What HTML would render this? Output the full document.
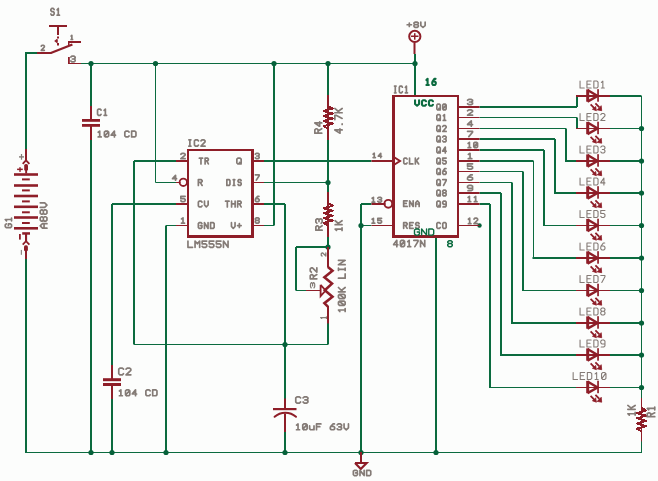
<!DOCTYPE html>
<html><head><meta charset="utf-8"><style>
html,body{margin:0;padding:0;background:#fcfdfc;}
svg{display:block;font-family:"Liberation Sans",sans-serif;}
</style></head><body>
<svg width="658" height="481" viewBox="0 0 658 481">
<rect width="658" height="481" fill="#fcfdfc"/>
<rect x="25" y="52" width="12" height="2" fill="#0b6b3f"/>
<rect x="25" y="52" width="2" height="97" fill="#0b6b3f"/>
<rect x="81" y="63" width="334" height="1" fill="#0b6b3f"/>
<rect x="25" y="259" width="2" height="194" fill="#0b6b3f"/>
<rect x="25" y="452" width="617" height="1" fill="#0b6b3f"/>
<rect x="90" y="63.5" width="2" height="42.5" fill="#0b6b3f"/>
<rect x="90" y="139" width="2" height="313.5" fill="#0b6b3f"/>
<rect x="155" y="63.5" width="1" height="119" fill="#0b6b3f"/>
<rect x="155.5" y="182" width="21.5" height="1" fill="#0b6b3f"/>
<rect x="273" y="63.5" width="2" height="162" fill="#0b6b3f"/>
<rect x="263.5" y="225" width="10.5" height="1" fill="#0b6b3f"/>
<rect x="327" y="63.5" width="2" height="31.5" fill="#0b6b3f"/>
<rect x="327" y="140" width="2" height="52" fill="#0b6b3f"/>
<rect x="263.5" y="182" width="64.5" height="1" fill="#0b6b3f"/>
<rect x="263.5" y="160" width="108" height="2" fill="#0b6b3f"/>
<rect x="134" y="160" width="43" height="2" fill="#0b6b3f"/>
<rect x="133" y="161" width="2" height="183.5" fill="#0b6b3f"/>
<rect x="134" y="344" width="194" height="1" fill="#0b6b3f"/>
<rect x="112" y="203" width="65" height="2" fill="#0b6b3f"/>
<rect x="111" y="204" width="2" height="161" fill="#0b6b3f"/>
<rect x="111" y="399" width="2" height="53.5" fill="#0b6b3f"/>
<rect x="166" y="225" width="11" height="1" fill="#0b6b3f"/>
<rect x="165" y="225.5" width="2" height="227" fill="#0b6b3f"/>
<rect x="263.5" y="203" width="21.5" height="2" fill="#0b6b3f"/>
<rect x="284" y="204" width="2" height="195" fill="#0b6b3f"/>
<rect x="284" y="432" width="2" height="20.5" fill="#0b6b3f"/>
<rect x="327" y="235" width="2" height="12" fill="#0b6b3f"/>
<rect x="296" y="246" width="32" height="2" fill="#0b6b3f"/>
<rect x="295" y="247" width="2" height="43.5" fill="#0b6b3f"/>
<rect x="296" y="290" width="10" height="1" fill="#0b6b3f"/>
<rect x="327" y="323" width="2" height="21.5" fill="#0b6b3f"/>
<rect x="361" y="203" width="10.5" height="2" fill="#0b6b3f"/>
<rect x="361" y="225" width="10.5" height="1" fill="#0b6b3f"/>
<rect x="360" y="204" width="2" height="248.5" fill="#0b6b3f"/>
<rect x="414" y="54" width="2" height="42" fill="#0b6b3f"/>
<rect x="435" y="237" width="2" height="215.5" fill="#0b6b3f"/>
<rect x="479.5" y="106" width="97.5" height="2" fill="#0b6b3f"/>
<rect x="576" y="96" width="2" height="11" fill="#0b6b3f"/>
<rect x="610" y="95" width="31.5" height="2" fill="#0b6b3f"/>
<rect x="479.5" y="117" width="97.5" height="1" fill="#0b6b3f"/>
<rect x="576" y="117.5" width="2" height="11" fill="#0b6b3f"/>
<rect x="610" y="128" width="31.5" height="1" fill="#0b6b3f"/>
<rect x="479.5" y="128" width="86.5" height="1" fill="#0b6b3f"/>
<rect x="565" y="128.5" width="2" height="32.5" fill="#0b6b3f"/>
<rect x="565" y="160" width="12.5" height="2" fill="#0b6b3f"/>
<rect x="610" y="160" width="31.5" height="2" fill="#0b6b3f"/>
<rect x="479.5" y="138" width="75.5" height="2" fill="#0b6b3f"/>
<rect x="554" y="139" width="2" height="54" fill="#0b6b3f"/>
<rect x="554" y="192" width="23.5" height="2" fill="#0b6b3f"/>
<rect x="610" y="192" width="31.5" height="2" fill="#0b6b3f"/>
<rect x="479.5" y="149" width="64.5" height="2" fill="#0b6b3f"/>
<rect x="543" y="150" width="2" height="75.5" fill="#0b6b3f"/>
<rect x="543" y="225" width="34.5" height="1" fill="#0b6b3f"/>
<rect x="610" y="225" width="31.5" height="1" fill="#0b6b3f"/>
<rect x="479.5" y="160" width="54" height="2" fill="#0b6b3f"/>
<rect x="533" y="161" width="1" height="97" fill="#0b6b3f"/>
<rect x="532.5" y="257" width="45" height="2" fill="#0b6b3f"/>
<rect x="610" y="257" width="31.5" height="2" fill="#0b6b3f"/>
<rect x="479.5" y="171" width="43.5" height="1" fill="#0b6b3f"/>
<rect x="522" y="171.5" width="2" height="119" fill="#0b6b3f"/>
<rect x="522" y="290" width="55.5" height="1" fill="#0b6b3f"/>
<rect x="610" y="290" width="31.5" height="1" fill="#0b6b3f"/>
<rect x="479.5" y="182" width="32.5" height="1" fill="#0b6b3f"/>
<rect x="511" y="182.5" width="2" height="140.5" fill="#0b6b3f"/>
<rect x="511" y="322" width="66.5" height="2" fill="#0b6b3f"/>
<rect x="610" y="322" width="31.5" height="2" fill="#0b6b3f"/>
<rect x="479.5" y="192" width="21.5" height="2" fill="#0b6b3f"/>
<rect x="500" y="193" width="2" height="162" fill="#0b6b3f"/>
<rect x="500" y="354" width="77.5" height="2" fill="#0b6b3f"/>
<rect x="610" y="354" width="31.5" height="2" fill="#0b6b3f"/>
<rect x="479.5" y="203" width="10.5" height="2" fill="#0b6b3f"/>
<rect x="489" y="204" width="2" height="183.5" fill="#0b6b3f"/>
<rect x="489" y="387" width="88.5" height="1" fill="#0b6b3f"/>
<rect x="610" y="387" width="31.5" height="1" fill="#0b6b3f"/>
<rect x="641" y="96" width="1" height="302" fill="#0b6b3f"/>
<rect x="641" y="441" width="1" height="11.5" fill="#0b6b3f"/>
<circle cx="91" cy="63.5" r="2.6" fill="#06613a"/>
<circle cx="155.5" cy="63.5" r="2.6" fill="#06613a"/>
<circle cx="274" cy="63.5" r="2.6" fill="#06613a"/>
<circle cx="328" cy="63.5" r="2.6" fill="#06613a"/>
<circle cx="415" cy="63.5" r="2.6" fill="#06613a"/>
<circle cx="328" cy="182.5" r="2.6" fill="#06613a"/>
<circle cx="328" cy="247" r="2.6" fill="#06613a"/>
<circle cx="285" cy="344.5" r="2.6" fill="#06613a"/>
<circle cx="361" cy="225.5" r="2.6" fill="#06613a"/>
<circle cx="91" cy="452.5" r="2.6" fill="#06613a"/>
<circle cx="112" cy="452.5" r="2.6" fill="#06613a"/>
<circle cx="166" cy="452.5" r="2.6" fill="#06613a"/>
<circle cx="285" cy="452.5" r="2.6" fill="#06613a"/>
<circle cx="361" cy="452.5" r="2.6" fill="#06613a"/>
<circle cx="436" cy="452.5" r="2.6" fill="#06613a"/>
<circle cx="641.5" cy="128.5" r="2.6" fill="#06613a"/>
<circle cx="641.5" cy="161" r="2.6" fill="#06613a"/>
<circle cx="641.5" cy="193" r="2.6" fill="#06613a"/>
<circle cx="641.5" cy="225.5" r="2.6" fill="#06613a"/>
<circle cx="641.5" cy="258" r="2.6" fill="#06613a"/>
<circle cx="641.5" cy="290.5" r="2.6" fill="#06613a"/>
<circle cx="641.5" cy="323" r="2.6" fill="#06613a"/>
<circle cx="641.5" cy="355" r="2.6" fill="#06613a"/>
<circle cx="641.5" cy="387.5" r="2.6" fill="#06613a"/>
<circle cx="479.5" cy="225.5" r="2.2" fill="#06613a"/>
<rect x="187" y="149" width="67" height="2" fill="#8e1e28"/>
<rect x="187" y="235" width="67" height="3" fill="#8e1e28"/>
<rect x="187" y="149" width="2" height="89" fill="#8e1e28"/>
<rect x="251" y="149" width="3" height="89" fill="#8e1e28"/>
<rect x="176" y="160" width="11" height="2" fill="#8e1e28"/>
<rect x="176" y="203" width="11" height="2" fill="#8e1e28"/>
<rect x="176" y="225" width="11" height="1" fill="#8e1e28"/>
<rect x="176" y="182" width="4.5" height="1" fill="#8e1e28"/>
<circle cx="183.3" cy="182.3" r="3.7" fill="none" stroke="#8e1e28" stroke-width="1.8"/>
<rect x="253" y="160" width="11" height="2" fill="#8e1e28"/>
<rect x="253" y="182" width="11" height="1" fill="#8e1e28"/>
<rect x="253" y="203" width="11" height="2" fill="#8e1e28"/>
<rect x="253" y="225" width="11" height="1" fill="#8e1e28"/>
<path d="M188.87,139.85 L190.90,139.85 M189.88,139.85 L189.88,146.15 M188.87,146.15 L190.90,146.15 M198.48,140.90 L197.47,139.85 L195.43,139.85 L194.42,140.90 L194.42,145.10 L195.43,146.15 L197.47,146.15 L198.48,145.10 M200.98,140.90 L202.00,139.85 L204.03,139.85 L205.05,140.90 L205.05,141.95 L200.98,146.15 L205.05,146.15" fill="none" stroke="#847b76" stroke-width="1.7" stroke-linecap="round" stroke-linejoin="round"/>
<path d="M187.95,241.05 L187.95,247.35 L192.55,247.35 M195.05,247.35 L195.05,241.05 L197.35,243.78 L199.65,241.05 L199.65,247.35 M206.75,241.05 L202.15,241.05 L202.15,243.78 L205.60,243.78 L206.75,244.83 L206.75,246.30 L205.60,247.35 L203.30,247.35 L202.15,246.30 M213.85,241.05 L209.25,241.05 L209.25,243.78 L212.70,243.78 L213.85,244.83 L213.85,246.30 L212.70,247.35 L210.40,247.35 L209.25,246.30 M220.95,241.05 L216.35,241.05 L216.35,243.78 L219.80,243.78 L220.95,244.83 L220.95,246.30 L219.80,247.35 L217.50,247.35 L216.35,246.30 M223.45,247.35 L223.45,241.05 L228.05,247.35 L228.05,241.05" fill="none" stroke="#847b76" stroke-width="1.7" stroke-linecap="round" stroke-linejoin="round"/>
<path d="M180.85,154.23 L181.93,153.35 L184.07,153.35 L185.15,154.23 L185.15,155.12 L180.85,158.65 L185.15,158.65" fill="none" stroke="#847b76" stroke-width="1.7" stroke-linecap="round" stroke-linejoin="round"/>
<path d="M185.15,196.35 L180.85,196.35 L180.85,198.65 L184.07,198.65 L185.15,199.53 L185.15,200.77 L184.07,201.65 L181.93,201.65 L180.85,200.77" fill="none" stroke="#847b76" stroke-width="1.7" stroke-linecap="round" stroke-linejoin="round"/>
<path d="M181.50,218.91 L183.00,217.85 L183.00,223.15 M181.50,223.15 L184.50,223.15" fill="none" stroke="#847b76" stroke-width="1.7" stroke-linecap="round" stroke-linejoin="round"/>
<path d="M175.55,180.15 L175.55,175.35 L172.55,178.55 L172.55,178.71 L176.55,178.71" fill="none" stroke="#847b76" stroke-width="1.7" stroke-linecap="round" stroke-linejoin="round"/>
<path d="M255.35,154.23 L256.30,153.35 L258.20,153.35 L259.15,154.23 L259.15,155.12 L258.20,156.00 L259.15,156.88 L259.15,157.77 L258.20,158.65 L256.30,158.65 L255.35,157.77 M256.77,156.00 L258.20,156.00" fill="none" stroke="#847b76" stroke-width="1.7" stroke-linecap="round" stroke-linejoin="round"/>
<path d="M255.35,174.85 L259.15,174.85 L259.15,175.73 L256.30,180.15" fill="none" stroke="#847b76" stroke-width="1.7" stroke-linecap="round" stroke-linejoin="round"/>
<path d="M258.96,196.35 L257.63,196.35 L255.63,198.65 L255.35,199.53 L255.35,200.77 L256.30,201.65 L258.20,201.65 L259.15,200.77 L259.15,199.53 L258.20,198.65 L255.92,198.65" fill="none" stroke="#847b76" stroke-width="1.7" stroke-linecap="round" stroke-linejoin="round"/>
<path d="M256.30,220.32 L255.35,219.44 L255.35,218.73 L256.30,217.85 L258.20,217.85 L259.15,218.73 L259.15,219.44 L258.20,220.32 L256.30,220.32 L255.35,221.21 L255.35,222.27 L256.30,223.15 L258.20,223.15 L259.15,222.27 L259.15,221.21 L258.20,220.32" fill="none" stroke="#847b76" stroke-width="1.7" stroke-linecap="round" stroke-linejoin="round"/>
<path d="M199.35,158.15 L202.60,158.15 M200.97,158.15 L200.97,163.95 M205.10,163.95 L205.10,158.15 L207.54,158.15 L208.35,159.12 L208.35,159.89 L207.54,160.86 L205.10,160.86 M206.72,160.86 L208.35,163.95" fill="none" stroke="#847b76" stroke-width="1.7" stroke-linecap="round" stroke-linejoin="round"/>
<path d="M198.35,185.45 L198.35,179.65 L201.20,179.65 L202.15,180.62 L202.15,181.39 L201.20,182.36 L198.35,182.36 M200.25,182.36 L202.15,185.45" fill="none" stroke="#847b76" stroke-width="1.7" stroke-linecap="round" stroke-linejoin="round"/>
<path d="M202.00,202.12 L201.09,201.15 L199.26,201.15 L198.35,202.12 L198.35,205.98 L199.26,206.95 L201.09,206.95 L202.00,205.98 M204.50,201.15 L204.50,205.02 L206.32,206.95 L208.15,205.02 L208.15,201.15" fill="none" stroke="#847b76" stroke-width="1.7" stroke-linecap="round" stroke-linejoin="round"/>
<path d="M201.95,223.62 L201.05,222.65 L199.25,222.65 L198.35,223.62 L198.35,227.48 L199.25,228.45 L201.05,228.45 L201.95,227.48 L201.95,225.55 L200.33,225.55 M204.45,228.45 L204.45,222.65 L208.05,228.45 L208.05,222.65 M210.55,228.45 L210.55,222.65 L213.25,222.65 L214.15,223.62 L214.15,227.48 L213.25,228.45 L210.55,228.45" fill="none" stroke="#847b76" stroke-width="1.7" stroke-linecap="round" stroke-linejoin="round"/>
<path d="M237.93,163.95 L240.07,163.95 L241.15,162.98 L241.15,159.12 L240.07,158.15 L237.93,158.15 L236.85,159.12 L236.85,162.98 L237.93,163.95 M239.43,162.40 L241.15,163.95" fill="none" stroke="#847b76" stroke-width="1.7" stroke-linecap="round" stroke-linejoin="round"/>
<path d="M226.85,185.45 L226.85,179.65 L229.18,179.65 L229.95,180.62 L229.95,184.48 L229.18,185.45 L226.85,185.45 M233.22,179.65 L234.78,179.65 M234.00,179.65 L234.00,185.45 M233.22,185.45 L234.78,185.45 M241.15,180.62 L240.38,179.65 L238.82,179.65 L238.05,180.62 L238.05,181.39 L238.82,182.36 L240.38,182.36 L241.15,183.32 L241.15,184.48 L240.38,185.45 L238.82,185.45 L238.05,184.48" fill="none" stroke="#847b76" stroke-width="1.7" stroke-linecap="round" stroke-linejoin="round"/>
<path d="M225.55,201.15 L229.08,201.15 M227.32,201.15 L227.32,206.95 M231.58,206.95 L231.58,201.15 M235.12,206.95 L235.12,201.15 M231.58,203.86 L235.12,203.86 M237.62,206.95 L237.62,201.15 L240.27,201.15 L241.15,202.12 L241.15,202.89 L240.27,203.86 L237.62,203.86 M239.38,203.86 L241.15,206.95" fill="none" stroke="#847b76" stroke-width="1.7" stroke-linecap="round" stroke-linejoin="round"/>
<path d="M231.45,222.65 L231.45,226.52 L233.25,228.45 L235.05,226.52 L235.05,222.65 M237.55,225.55 L241.15,225.55 M239.35,227.48 L239.35,223.62" fill="none" stroke="#847b76" stroke-width="1.7" stroke-linecap="round" stroke-linejoin="round"/>
<rect x="392" y="95" width="67" height="2" fill="#8e1e28"/>
<rect x="392" y="235" width="67" height="3" fill="#8e1e28"/>
<rect x="392" y="95" width="3" height="143" fill="#8e1e28"/>
<rect x="457" y="95" width="2" height="143" fill="#8e1e28"/>
<rect x="371.5" y="160" width="21.5" height="2" fill="#8e1e28"/>
<rect x="371.5" y="225" width="21.5" height="1" fill="#8e1e28"/>
<rect x="371.5" y="203" width="14" height="2" fill="#8e1e28"/>
<circle cx="388.3" cy="203.8" r="3.9" fill="none" stroke="#8e1e28" stroke-width="1.9"/>
<polyline points="393,156.5 400,161 393,165.5" stroke="#8e1e28" stroke-width="2" fill="none" stroke-linejoin="miter" stroke-linecap="butt"/>
<path d="M373.13,154.11 L374.25,153.25 L374.25,157.55 M373.13,157.55 L375.37,157.55 M380.75,157.55 L380.75,153.25 L378.35,156.12 L378.35,156.26 L381.55,156.26" fill="none" stroke="#847b76" stroke-width="1.7" stroke-linecap="round" stroke-linejoin="round"/>
<path d="M372.11,198.31 L373.43,197.35 L373.43,202.15 M372.11,202.15 L374.74,202.15 M377.80,198.15 L378.74,197.35 L380.61,197.35 L381.55,198.15 L381.55,198.95 L380.61,199.75 L381.55,200.55 L381.55,201.35 L380.61,202.15 L378.74,202.15 L377.80,201.35 M379.21,199.75 L380.61,199.75" fill="none" stroke="#847b76" stroke-width="1.7" stroke-linecap="round" stroke-linejoin="round"/>
<path d="M372.11,219.31 L373.43,218.35 L373.43,223.15 M372.11,223.15 L374.74,223.15 M381.55,218.35 L377.80,218.35 L377.80,220.43 L380.61,220.43 L381.55,221.23 L381.55,222.35 L380.61,223.15 L378.74,223.15 L377.80,222.35" fill="none" stroke="#847b76" stroke-width="1.7" stroke-linecap="round" stroke-linejoin="round"/>
<path d="M407.05,159.03 L406.22,158.05 L404.57,158.05 L403.75,159.03 L403.75,162.97 L404.57,163.95 L406.22,163.95 L407.05,162.97 M409.55,158.05 L409.55,163.95 L412.85,163.95 M415.35,163.95 L415.35,158.05 M418.65,158.05 L415.35,161.98 M416.42,160.71 L418.65,163.95" fill="none" stroke="#847b76" stroke-width="1.7" stroke-linecap="round" stroke-linejoin="round"/>
<path d="M407.15,200.85 L403.65,200.85 L403.65,206.45 L407.15,206.45 M403.65,203.46 L406.28,203.46 M409.65,206.45 L409.65,200.85 L413.15,206.45 L413.15,200.85 M415.65,206.45 L415.65,202.72 L417.40,200.85 L419.15,202.72 L419.15,206.45 M415.65,204.02 L419.15,204.02" fill="none" stroke="#847b76" stroke-width="1.7" stroke-linecap="round" stroke-linejoin="round"/>
<path d="M403.65,228.35 L403.65,222.65 L406.28,222.65 L407.15,223.60 L407.15,224.36 L406.28,225.31 L403.65,225.31 M405.40,225.31 L407.15,228.35 M413.15,222.65 L409.65,222.65 L409.65,228.35 L413.15,228.35 M409.65,225.31 L412.27,225.31 M419.15,223.60 L418.27,222.65 L416.52,222.65 L415.65,223.60 L415.65,224.36 L416.52,225.31 L418.27,225.31 L419.15,226.26 L419.15,227.40 L418.27,228.35 L416.52,228.35 L415.65,227.40" fill="none" stroke="#847b76" stroke-width="1.7" stroke-linecap="round" stroke-linejoin="round"/>
<path d="M394.52,86.05 L396.05,86.05 M395.28,86.05 L395.28,92.85 M394.52,92.85 L396.05,92.85 M402.38,87.18 L401.62,86.05 L400.08,86.05 L399.32,87.18 L399.32,91.72 L400.08,92.85 L401.62,92.85 L402.38,91.72 M405.34,87.41 L406.42,86.05 L406.42,92.85 M405.34,92.85 L407.49,92.85" fill="none" stroke="#847b76" stroke-width="1.7" stroke-linecap="round" stroke-linejoin="round"/>
<path d="M396.81,246.65 L396.81,240.35 L393.65,244.55 L393.65,244.76 L397.87,244.76 M401.43,246.65 L403.54,246.65 L404.59,245.60 L404.59,241.40 L403.54,240.35 L401.43,240.35 L400.37,241.40 L400.37,245.60 L401.43,246.65 M401.00,245.39 L403.96,241.61 M407.72,241.61 L409.20,240.35 L409.20,246.65 M407.72,246.65 L410.68,246.65 M413.81,240.35 L418.03,240.35 L418.03,241.40 L414.87,246.65 M420.53,246.65 L420.53,240.35 L424.75,246.65 L424.75,240.35" fill="none" stroke="#847b76" stroke-width="1.7" stroke-linecap="round" stroke-linejoin="round"/>
<path d="M415.05,100.25 L415.05,103.92 L417.07,105.75 L419.08,103.92 L419.08,100.25 M426.02,101.17 L425.01,100.25 L422.99,100.25 L421.98,101.17 L421.98,104.83 L422.99,105.75 L425.01,105.75 L426.02,104.83 M432.95,101.17 L431.94,100.25 L429.93,100.25 L428.92,101.17 L428.92,104.83 L429.93,105.75 L431.94,105.75 L432.95,104.83" fill="none" stroke="#0b6b3f" stroke-width="2.1" stroke-linecap="round" stroke-linejoin="round"/>
<path d="M426.38,80.07 L427.60,78.85 L427.60,84.95 M426.38,84.95 L428.82,84.95 M435.57,78.85 L434.35,78.85 L432.51,81.49 L432.25,82.51 L432.25,83.93 L433.12,84.95 L434.88,84.95 L435.75,83.93 L435.75,82.51 L434.88,81.49 L432.78,81.49" fill="none" stroke="#0b6b3f" stroke-width="2.1" stroke-linecap="round" stroke-linejoin="round"/>
<path d="M419.43,230.02 L418.20,229.00 L415.73,229.00 L414.50,230.02 L414.50,234.08 L415.73,235.10 L418.20,235.10 L419.43,234.08 L419.43,232.05 L417.21,232.05 M421.63,235.10 L421.63,229.00 L426.57,235.10 L426.57,229.00 M428.77,235.10 L428.77,229.00 L432.47,229.00 L433.70,230.02 L433.70,234.08 L432.47,235.10 L428.77,235.10" fill="none" stroke="#0b6b3f" stroke-width="1.4" stroke-linecap="round" stroke-linejoin="round"/>
<path d="M448.88,243.55 L447.75,242.55 L447.75,241.75 L448.88,240.75 L451.12,240.75 L452.25,241.75 L452.25,242.55 L451.12,243.55 L448.88,243.55 L447.75,244.55 L447.75,245.75 L448.88,246.75 L451.12,246.75 L452.25,245.75 L452.25,244.55 L451.12,243.55" fill="none" stroke="#0b6b3f" stroke-width="1.5" stroke-linecap="round" stroke-linejoin="round"/>
<rect x="458" y="106" width="21.5" height="2" fill="#8e1e28"/>
<path d="M467.55,100.23 L468.80,99.35 L471.30,99.35 L472.55,100.23 L472.55,101.12 L471.30,102.00 L472.55,102.88 L472.55,103.77 L471.30,104.65 L468.80,104.65 L467.55,103.77 M469.43,102.00 L471.30,102.00" fill="none" stroke="#847b76" stroke-width="1.7" stroke-linecap="round" stroke-linejoin="round"/>
<path d="M437.70,109.95 L439.40,109.95 L440.25,108.97 L440.25,105.03 L439.40,104.05 L437.70,104.05 L436.85,105.03 L436.85,108.97 L437.70,109.95 M438.89,108.38 L440.25,109.95 M443.60,109.95 L445.30,109.95 L446.15,108.97 L446.15,105.03 L445.30,104.05 L443.60,104.05 L442.75,105.03 L442.75,108.97 L443.60,109.95 M443.26,108.77 L445.64,105.23" fill="none" stroke="#847b76" stroke-width="1.7" stroke-linecap="round" stroke-linejoin="round"/>
<rect x="458" y="117" width="21.5" height="1" fill="#8e1e28"/>
<path d="M467.55,110.73 L468.80,109.85 L471.30,109.85 L472.55,110.73 L472.55,111.62 L467.55,115.15 L472.55,115.15" fill="none" stroke="#847b76" stroke-width="1.7" stroke-linecap="round" stroke-linejoin="round"/>
<path d="M437.70,120.45 L439.40,120.45 L440.25,119.47 L440.25,115.53 L439.40,114.55 L437.70,114.55 L436.85,115.53 L436.85,119.47 L437.70,120.45 M438.89,118.88 L440.25,120.45 M443.26,115.73 L444.45,114.55 L444.45,120.45 M443.26,120.45 L445.64,120.45" fill="none" stroke="#847b76" stroke-width="1.7" stroke-linecap="round" stroke-linejoin="round"/>
<rect x="458" y="128" width="21.5" height="1" fill="#8e1e28"/>
<path d="M471.30,126.15 L471.30,120.85 L467.55,124.38 L467.55,124.56 L472.55,124.56" fill="none" stroke="#847b76" stroke-width="1.7" stroke-linecap="round" stroke-linejoin="round"/>
<path d="M437.70,131.45 L439.40,131.45 L440.25,130.47 L440.25,126.53 L439.40,125.55 L437.70,125.55 L436.85,126.53 L436.85,130.47 L437.70,131.45 M438.89,129.88 L440.25,131.45 M442.75,126.53 L443.60,125.55 L445.30,125.55 L446.15,126.53 L446.15,127.52 L442.75,131.45 L446.15,131.45" fill="none" stroke="#847b76" stroke-width="1.7" stroke-linecap="round" stroke-linejoin="round"/>
<rect x="458" y="138" width="21.5" height="2" fill="#8e1e28"/>
<path d="M467.55,131.35 L472.55,131.35 L472.55,132.23 L468.80,136.65" fill="none" stroke="#847b76" stroke-width="1.7" stroke-linecap="round" stroke-linejoin="round"/>
<path d="M437.70,141.95 L439.40,141.95 L440.25,140.97 L440.25,137.03 L439.40,136.05 L437.70,136.05 L436.85,137.03 L436.85,140.97 L437.70,141.95 M438.89,140.38 L440.25,141.95 M442.75,137.03 L443.60,136.05 L445.30,136.05 L446.15,137.03 L446.15,138.02 L445.30,139.00 L446.15,139.98 L446.15,140.97 L445.30,141.95 L443.60,141.95 L442.75,140.97 M444.02,139.00 L445.30,139.00" fill="none" stroke="#847b76" stroke-width="1.7" stroke-linecap="round" stroke-linejoin="round"/>
<rect x="458" y="149" width="21.5" height="2" fill="#8e1e28"/>
<path d="M468.11,143.41 L469.43,142.35 L469.43,147.65 M468.11,147.65 L470.74,147.65 M474.74,147.65 L476.61,147.65 L477.55,146.77 L477.55,143.23 L476.61,142.35 L474.74,142.35 L473.80,143.23 L473.80,146.77 L474.74,147.65 M474.36,146.59 L476.99,143.41" fill="none" stroke="#847b76" stroke-width="1.7" stroke-linecap="round" stroke-linejoin="round"/>
<path d="M437.70,152.95 L439.40,152.95 L440.25,151.97 L440.25,148.03 L439.40,147.05 L437.70,147.05 L436.85,148.03 L436.85,151.97 L437.70,152.95 M438.89,151.38 L440.25,152.95 M445.30,152.95 L445.30,147.05 L442.75,150.98 L442.75,151.18 L446.15,151.18" fill="none" stroke="#847b76" stroke-width="1.7" stroke-linecap="round" stroke-linejoin="round"/>
<rect x="458" y="160" width="21.5" height="2" fill="#8e1e28"/>
<path d="M468.30,154.41 L470.05,153.35 L470.05,158.65 M468.30,158.65 L471.80,158.65" fill="none" stroke="#847b76" stroke-width="1.7" stroke-linecap="round" stroke-linejoin="round"/>
<path d="M437.70,163.95 L439.40,163.95 L440.25,162.97 L440.25,159.03 L439.40,158.05 L437.70,158.05 L436.85,159.03 L436.85,162.97 L437.70,163.95 M438.89,162.38 L440.25,163.95 M446.15,158.05 L442.75,158.05 L442.75,160.61 L445.30,160.61 L446.15,161.59 L446.15,162.97 L445.30,163.95 L443.60,163.95 L442.75,162.97" fill="none" stroke="#847b76" stroke-width="1.7" stroke-linecap="round" stroke-linejoin="round"/>
<rect x="458" y="171" width="21.5" height="1" fill="#8e1e28"/>
<path d="M472.55,163.85 L467.55,163.85 L467.55,166.15 L471.30,166.15 L472.55,167.03 L472.55,168.27 L471.30,169.15 L468.80,169.15 L467.55,168.27" fill="none" stroke="#847b76" stroke-width="1.7" stroke-linecap="round" stroke-linejoin="round"/>
<path d="M437.70,174.45 L439.40,174.45 L440.25,173.47 L440.25,169.53 L439.40,168.55 L437.70,168.55 L436.85,169.53 L436.85,173.47 L437.70,174.45 M438.89,172.88 L440.25,174.45 M445.98,168.55 L444.79,168.55 L443.00,171.11 L442.75,172.09 L442.75,173.47 L443.60,174.45 L445.30,174.45 L446.15,173.47 L446.15,172.09 L445.30,171.11 L443.26,171.11" fill="none" stroke="#847b76" stroke-width="1.7" stroke-linecap="round" stroke-linejoin="round"/>
<rect x="458" y="182" width="21.5" height="1" fill="#8e1e28"/>
<path d="M472.30,174.85 L470.55,174.85 L467.93,177.15 L467.55,178.03 L467.55,179.27 L468.80,180.15 L471.30,180.15 L472.55,179.27 L472.55,178.03 L471.30,177.15 L468.30,177.15" fill="none" stroke="#847b76" stroke-width="1.7" stroke-linecap="round" stroke-linejoin="round"/>
<path d="M437.70,185.45 L439.40,185.45 L440.25,184.47 L440.25,180.53 L439.40,179.55 L437.70,179.55 L436.85,180.53 L436.85,184.47 L437.70,185.45 M438.89,183.88 L440.25,185.45 M442.75,179.55 L446.15,179.55 L446.15,180.53 L443.60,185.45" fill="none" stroke="#847b76" stroke-width="1.7" stroke-linecap="round" stroke-linejoin="round"/>
<rect x="458" y="192" width="21.5" height="2" fill="#8e1e28"/>
<path d="M468.05,190.65 L471.30,190.65 L472.55,189.77 L472.55,186.23 L471.30,185.35 L468.80,185.35 L467.55,186.23 L467.55,187.47 L468.80,188.35 L472.55,188.35" fill="none" stroke="#847b76" stroke-width="1.7" stroke-linecap="round" stroke-linejoin="round"/>
<path d="M437.70,195.95 L439.40,195.95 L440.25,194.97 L440.25,191.03 L439.40,190.05 L437.70,190.05 L436.85,191.03 L436.85,194.97 L437.70,195.95 M438.89,194.38 L440.25,195.95 M443.60,192.80 L442.75,191.82 L442.75,191.03 L443.60,190.05 L445.30,190.05 L446.15,191.03 L446.15,191.82 L445.30,192.80 L443.60,192.80 L442.75,193.79 L442.75,194.97 L443.60,195.95 L445.30,195.95 L446.15,194.97 L446.15,193.79 L445.30,192.80" fill="none" stroke="#847b76" stroke-width="1.7" stroke-linecap="round" stroke-linejoin="round"/>
<rect x="458" y="203" width="21.5" height="2" fill="#8e1e28"/>
<path d="M468.11,197.41 L469.43,196.35 L469.43,201.65 M468.11,201.65 L470.74,201.65 M474.36,197.41 L475.67,196.35 L475.67,201.65 M474.36,201.65 L476.99,201.65" fill="none" stroke="#847b76" stroke-width="1.7" stroke-linecap="round" stroke-linejoin="round"/>
<path d="M437.70,206.95 L439.40,206.95 L440.25,205.97 L440.25,202.03 L439.40,201.05 L437.70,201.05 L436.85,202.03 L436.85,205.97 L437.70,206.95 M438.89,205.38 L440.25,206.95 M443.09,206.95 L445.30,206.95 L446.15,205.97 L446.15,202.03 L445.30,201.05 L443.60,201.05 L442.75,202.03 L442.75,203.41 L443.60,204.39 L446.15,204.39" fill="none" stroke="#847b76" stroke-width="1.7" stroke-linecap="round" stroke-linejoin="round"/>
<rect x="458" y="225" width="21.5" height="1" fill="#8e1e28"/>
<path d="M468.40,219.25 L469.68,218.15 L469.68,223.65 M468.40,223.65 L470.95,223.65 M474.00,219.07 L474.91,218.15 L476.74,218.15 L477.65,219.07 L477.65,219.98 L474.00,223.65 L477.65,223.65" fill="none" stroke="#847b76" stroke-width="1.7" stroke-linecap="round" stroke-linejoin="round"/>
<path d="M440.25,223.53 L439.40,222.55 L437.70,222.55 L436.85,223.53 L436.85,227.47 L437.70,228.45 L439.40,228.45 L440.25,227.47 M443.60,228.45 L445.30,228.45 L446.15,227.47 L446.15,223.53 L445.30,222.55 L443.60,222.55 L442.75,223.53 L442.75,227.47 L443.60,228.45" fill="none" stroke="#847b76" stroke-width="1.7" stroke-linecap="round" stroke-linejoin="round"/>
<rect x="576" y="95" width="34" height="2" fill="#8e1e28"/>
<rect x="586.2" y="89.4" width="3" height="12.3" fill="#8e1e28"/>
<polyline points="587.5,90 597.6,96 587.5,101.6" stroke="#8e1e28" stroke-width="2.4" fill="none" stroke-linejoin="miter" stroke-linecap="butt"/>
<rect x="597.2" y="89.2" width="1.7" height="12.5" fill="#8e1e28"/>
<line x1="590.6" y1="104.4" x2="594.5" y2="108.3" stroke="#8e1e28" stroke-width="1.8" stroke-linecap="butt"/>
<polyline points="592.2,109.2 596.4,110.7 595.6,106.2" stroke="#8e1e28" stroke-width="0.8" fill="#8e1e28" stroke-linejoin="miter" stroke-linecap="butt"/>
<line x1="595.4" y1="103.3" x2="599.4" y2="107.3" stroke="#8e1e28" stroke-width="1.8" stroke-linecap="butt"/>
<polyline points="596.8,109.8 601.7,110.7 601.2,105.5" stroke="#8e1e28" stroke-width="0.8" fill="#8e1e28" stroke-linejoin="miter" stroke-linecap="butt"/>
<path d="M580.05,81.05 L580.05,87.95 L584.25,87.95 M591.15,81.05 L586.95,81.05 L586.95,87.95 L591.15,87.95 M586.95,84.27 L590.10,84.27 M593.85,87.95 L593.85,81.05 L597.00,81.05 L598.05,82.20 L598.05,86.80 L597.00,87.95 L593.85,87.95 M601.38,82.43 L602.85,81.05 L602.85,87.95 M601.38,87.95 L604.32,87.95" fill="none" stroke="#847b76" stroke-width="1.1" stroke-linecap="round" stroke-linejoin="round"/>
<rect x="576" y="128" width="34" height="1" fill="#8e1e28"/>
<rect x="586.2" y="121.9" width="3" height="12.3" fill="#8e1e28"/>
<polyline points="587.5,122.5 597.6,128.5 587.5,134.1" stroke="#8e1e28" stroke-width="2.4" fill="none" stroke-linejoin="miter" stroke-linecap="butt"/>
<rect x="597.2" y="121.7" width="1.7" height="12.5" fill="#8e1e28"/>
<line x1="590.6" y1="136.9" x2="594.5" y2="140.8" stroke="#8e1e28" stroke-width="1.8" stroke-linecap="butt"/>
<polyline points="592.2,141.7 596.4,143.2 595.6,138.7" stroke="#8e1e28" stroke-width="0.8" fill="#8e1e28" stroke-linejoin="miter" stroke-linecap="butt"/>
<line x1="595.4" y1="135.8" x2="599.4" y2="139.8" stroke="#8e1e28" stroke-width="1.8" stroke-linecap="butt"/>
<polyline points="596.8,142.3 601.7,143.2 601.2,138" stroke="#8e1e28" stroke-width="0.8" fill="#8e1e28" stroke-linejoin="miter" stroke-linecap="butt"/>
<path d="M580.05,113.55 L580.05,120.45 L584.25,120.45 M591.15,113.55 L586.95,113.55 L586.95,120.45 L591.15,120.45 M586.95,116.77 L590.10,116.77 M593.85,120.45 L593.85,113.55 L597.00,113.55 L598.05,114.70 L598.05,119.30 L597.00,120.45 L593.85,120.45 M600.75,114.70 L601.80,113.55 L603.90,113.55 L604.95,114.70 L604.95,115.85 L600.75,120.45 L604.95,120.45" fill="none" stroke="#847b76" stroke-width="1.1" stroke-linecap="round" stroke-linejoin="round"/>
<rect x="576" y="160" width="34" height="2" fill="#8e1e28"/>
<rect x="586.2" y="154.4" width="3" height="12.3" fill="#8e1e28"/>
<polyline points="587.5,155 597.6,161 587.5,166.6" stroke="#8e1e28" stroke-width="2.4" fill="none" stroke-linejoin="miter" stroke-linecap="butt"/>
<rect x="597.2" y="154.2" width="1.7" height="12.5" fill="#8e1e28"/>
<line x1="590.6" y1="169.4" x2="594.5" y2="173.3" stroke="#8e1e28" stroke-width="1.8" stroke-linecap="butt"/>
<polyline points="592.2,174.2 596.4,175.7 595.6,171.2" stroke="#8e1e28" stroke-width="0.8" fill="#8e1e28" stroke-linejoin="miter" stroke-linecap="butt"/>
<line x1="595.4" y1="168.3" x2="599.4" y2="172.3" stroke="#8e1e28" stroke-width="1.8" stroke-linecap="butt"/>
<polyline points="596.8,174.8 601.7,175.7 601.2,170.5" stroke="#8e1e28" stroke-width="0.8" fill="#8e1e28" stroke-linejoin="miter" stroke-linecap="butt"/>
<path d="M580.05,146.05 L580.05,152.95 L584.25,152.95 M591.15,146.05 L586.95,146.05 L586.95,152.95 L591.15,152.95 M586.95,149.27 L590.10,149.27 M593.85,152.95 L593.85,146.05 L597.00,146.05 L598.05,147.20 L598.05,151.80 L597.00,152.95 L593.85,152.95 M600.75,147.20 L601.80,146.05 L603.90,146.05 L604.95,147.20 L604.95,148.35 L603.90,149.50 L604.95,150.65 L604.95,151.80 L603.90,152.95 L601.80,152.95 L600.75,151.80 M602.33,149.50 L603.90,149.50" fill="none" stroke="#847b76" stroke-width="1.1" stroke-linecap="round" stroke-linejoin="round"/>
<rect x="576" y="192" width="34" height="2" fill="#8e1e28"/>
<rect x="586.2" y="186.4" width="3" height="12.3" fill="#8e1e28"/>
<polyline points="587.5,187 597.6,193 587.5,198.6" stroke="#8e1e28" stroke-width="2.4" fill="none" stroke-linejoin="miter" stroke-linecap="butt"/>
<rect x="597.2" y="186.2" width="1.7" height="12.5" fill="#8e1e28"/>
<line x1="590.6" y1="201.4" x2="594.5" y2="205.3" stroke="#8e1e28" stroke-width="1.8" stroke-linecap="butt"/>
<polyline points="592.2,206.2 596.4,207.7 595.6,203.2" stroke="#8e1e28" stroke-width="0.8" fill="#8e1e28" stroke-linejoin="miter" stroke-linecap="butt"/>
<line x1="595.4" y1="200.3" x2="599.4" y2="204.3" stroke="#8e1e28" stroke-width="1.8" stroke-linecap="butt"/>
<polyline points="596.8,206.8 601.7,207.7 601.2,202.5" stroke="#8e1e28" stroke-width="0.8" fill="#8e1e28" stroke-linejoin="miter" stroke-linecap="butt"/>
<path d="M580.05,178.05 L580.05,184.95 L584.25,184.95 M591.15,178.05 L586.95,178.05 L586.95,184.95 L591.15,184.95 M586.95,181.27 L590.10,181.27 M593.85,184.95 L593.85,178.05 L597.00,178.05 L598.05,179.20 L598.05,183.80 L597.00,184.95 L593.85,184.95 M603.90,184.95 L603.90,178.05 L600.75,182.65 L600.75,182.88 L604.95,182.88" fill="none" stroke="#847b76" stroke-width="1.1" stroke-linecap="round" stroke-linejoin="round"/>
<rect x="576" y="225" width="34" height="1" fill="#8e1e28"/>
<rect x="586.2" y="218.9" width="3" height="12.3" fill="#8e1e28"/>
<polyline points="587.5,219.5 597.6,225.5 587.5,231.1" stroke="#8e1e28" stroke-width="2.4" fill="none" stroke-linejoin="miter" stroke-linecap="butt"/>
<rect x="597.2" y="218.7" width="1.7" height="12.5" fill="#8e1e28"/>
<line x1="590.6" y1="233.9" x2="594.5" y2="237.8" stroke="#8e1e28" stroke-width="1.8" stroke-linecap="butt"/>
<polyline points="592.2,238.7 596.4,240.2 595.6,235.7" stroke="#8e1e28" stroke-width="0.8" fill="#8e1e28" stroke-linejoin="miter" stroke-linecap="butt"/>
<line x1="595.4" y1="232.8" x2="599.4" y2="236.8" stroke="#8e1e28" stroke-width="1.8" stroke-linecap="butt"/>
<polyline points="596.8,239.3 601.7,240.2 601.2,235" stroke="#8e1e28" stroke-width="0.8" fill="#8e1e28" stroke-linejoin="miter" stroke-linecap="butt"/>
<path d="M580.05,210.55 L580.05,217.45 L584.25,217.45 M591.15,210.55 L586.95,210.55 L586.95,217.45 L591.15,217.45 M586.95,213.77 L590.10,213.77 M593.85,217.45 L593.85,210.55 L597.00,210.55 L598.05,211.70 L598.05,216.30 L597.00,217.45 L593.85,217.45 M604.95,210.55 L600.75,210.55 L600.75,213.54 L603.90,213.54 L604.95,214.69 L604.95,216.30 L603.90,217.45 L601.80,217.45 L600.75,216.30" fill="none" stroke="#847b76" stroke-width="1.1" stroke-linecap="round" stroke-linejoin="round"/>
<rect x="576" y="257" width="34" height="2" fill="#8e1e28"/>
<rect x="586.2" y="251.4" width="3" height="12.3" fill="#8e1e28"/>
<polyline points="587.5,252 597.6,258 587.5,263.6" stroke="#8e1e28" stroke-width="2.4" fill="none" stroke-linejoin="miter" stroke-linecap="butt"/>
<rect x="597.2" y="251.2" width="1.7" height="12.5" fill="#8e1e28"/>
<line x1="590.6" y1="266.4" x2="594.5" y2="270.3" stroke="#8e1e28" stroke-width="1.8" stroke-linecap="butt"/>
<polyline points="592.2,271.2 596.4,272.7 595.6,268.2" stroke="#8e1e28" stroke-width="0.8" fill="#8e1e28" stroke-linejoin="miter" stroke-linecap="butt"/>
<line x1="595.4" y1="265.3" x2="599.4" y2="269.3" stroke="#8e1e28" stroke-width="1.8" stroke-linecap="butt"/>
<polyline points="596.8,271.8 601.7,272.7 601.2,267.5" stroke="#8e1e28" stroke-width="0.8" fill="#8e1e28" stroke-linejoin="miter" stroke-linecap="butt"/>
<path d="M580.05,243.05 L580.05,249.95 L584.25,249.95 M591.15,243.05 L586.95,243.05 L586.95,249.95 L591.15,249.95 M586.95,246.27 L590.10,246.27 M593.85,249.95 L593.85,243.05 L597.00,243.05 L598.05,244.20 L598.05,248.80 L597.00,249.95 L593.85,249.95 M604.74,243.05 L603.27,243.05 L601.07,246.04 L600.75,247.19 L600.75,248.80 L601.80,249.95 L603.90,249.95 L604.95,248.80 L604.95,247.19 L603.90,246.04 L601.38,246.04" fill="none" stroke="#847b76" stroke-width="1.1" stroke-linecap="round" stroke-linejoin="round"/>
<rect x="576" y="290" width="34" height="1" fill="#8e1e28"/>
<rect x="586.2" y="283.9" width="3" height="12.3" fill="#8e1e28"/>
<polyline points="587.5,284.5 597.6,290.5 587.5,296.1" stroke="#8e1e28" stroke-width="2.4" fill="none" stroke-linejoin="miter" stroke-linecap="butt"/>
<rect x="597.2" y="283.7" width="1.7" height="12.5" fill="#8e1e28"/>
<line x1="590.6" y1="298.9" x2="594.5" y2="302.8" stroke="#8e1e28" stroke-width="1.8" stroke-linecap="butt"/>
<polyline points="592.2,303.7 596.4,305.2 595.6,300.7" stroke="#8e1e28" stroke-width="0.8" fill="#8e1e28" stroke-linejoin="miter" stroke-linecap="butt"/>
<line x1="595.4" y1="297.8" x2="599.4" y2="301.8" stroke="#8e1e28" stroke-width="1.8" stroke-linecap="butt"/>
<polyline points="596.8,304.3 601.7,305.2 601.2,300" stroke="#8e1e28" stroke-width="0.8" fill="#8e1e28" stroke-linejoin="miter" stroke-linecap="butt"/>
<path d="M580.05,275.55 L580.05,282.45 L584.25,282.45 M591.15,275.55 L586.95,275.55 L586.95,282.45 L591.15,282.45 M586.95,278.77 L590.10,278.77 M593.85,282.45 L593.85,275.55 L597.00,275.55 L598.05,276.70 L598.05,281.30 L597.00,282.45 L593.85,282.45 M600.75,275.55 L604.95,275.55 L604.95,276.70 L601.80,282.45" fill="none" stroke="#847b76" stroke-width="1.1" stroke-linecap="round" stroke-linejoin="round"/>
<rect x="576" y="322" width="34" height="2" fill="#8e1e28"/>
<rect x="586.2" y="316.4" width="3" height="12.3" fill="#8e1e28"/>
<polyline points="587.5,317 597.6,323 587.5,328.6" stroke="#8e1e28" stroke-width="2.4" fill="none" stroke-linejoin="miter" stroke-linecap="butt"/>
<rect x="597.2" y="316.2" width="1.7" height="12.5" fill="#8e1e28"/>
<line x1="590.6" y1="331.4" x2="594.5" y2="335.3" stroke="#8e1e28" stroke-width="1.8" stroke-linecap="butt"/>
<polyline points="592.2,336.2 596.4,337.7 595.6,333.2" stroke="#8e1e28" stroke-width="0.8" fill="#8e1e28" stroke-linejoin="miter" stroke-linecap="butt"/>
<line x1="595.4" y1="330.3" x2="599.4" y2="334.3" stroke="#8e1e28" stroke-width="1.8" stroke-linecap="butt"/>
<polyline points="596.8,336.8 601.7,337.7 601.2,332.5" stroke="#8e1e28" stroke-width="0.8" fill="#8e1e28" stroke-linejoin="miter" stroke-linecap="butt"/>
<path d="M580.05,308.05 L580.05,314.95 L584.25,314.95 M591.15,308.05 L586.95,308.05 L586.95,314.95 L591.15,314.95 M586.95,311.27 L590.10,311.27 M593.85,314.95 L593.85,308.05 L597.00,308.05 L598.05,309.20 L598.05,313.80 L597.00,314.95 L593.85,314.95 M601.80,311.27 L600.75,310.12 L600.75,309.20 L601.80,308.05 L603.90,308.05 L604.95,309.20 L604.95,310.12 L603.90,311.27 L601.80,311.27 L600.75,312.42 L600.75,313.80 L601.80,314.95 L603.90,314.95 L604.95,313.80 L604.95,312.42 L603.90,311.27" fill="none" stroke="#847b76" stroke-width="1.1" stroke-linecap="round" stroke-linejoin="round"/>
<rect x="576" y="354" width="34" height="2" fill="#8e1e28"/>
<rect x="586.2" y="348.4" width="3" height="12.3" fill="#8e1e28"/>
<polyline points="587.5,349 597.6,355 587.5,360.6" stroke="#8e1e28" stroke-width="2.4" fill="none" stroke-linejoin="miter" stroke-linecap="butt"/>
<rect x="597.2" y="348.2" width="1.7" height="12.5" fill="#8e1e28"/>
<line x1="590.6" y1="363.4" x2="594.5" y2="367.3" stroke="#8e1e28" stroke-width="1.8" stroke-linecap="butt"/>
<polyline points="592.2,368.2 596.4,369.7 595.6,365.2" stroke="#8e1e28" stroke-width="0.8" fill="#8e1e28" stroke-linejoin="miter" stroke-linecap="butt"/>
<line x1="595.4" y1="362.3" x2="599.4" y2="366.3" stroke="#8e1e28" stroke-width="1.8" stroke-linecap="butt"/>
<polyline points="596.8,368.8 601.7,369.7 601.2,364.5" stroke="#8e1e28" stroke-width="0.8" fill="#8e1e28" stroke-linejoin="miter" stroke-linecap="butt"/>
<path d="M580.05,340.05 L580.05,346.95 L584.25,346.95 M591.15,340.05 L586.95,340.05 L586.95,346.95 L591.15,346.95 M586.95,343.27 L590.10,343.27 M593.85,346.95 L593.85,340.05 L597.00,340.05 L598.05,341.20 L598.05,345.80 L597.00,346.95 L593.85,346.95 M601.17,346.95 L603.90,346.95 L604.95,345.80 L604.95,341.20 L603.90,340.05 L601.80,340.05 L600.75,341.20 L600.75,342.81 L601.80,343.96 L604.95,343.96" fill="none" stroke="#847b76" stroke-width="1.1" stroke-linecap="round" stroke-linejoin="round"/>
<rect x="576" y="387" width="34" height="1" fill="#8e1e28"/>
<rect x="586.2" y="380.9" width="3" height="12.3" fill="#8e1e28"/>
<polyline points="587.5,381.5 597.6,387.5 587.5,393.1" stroke="#8e1e28" stroke-width="2.4" fill="none" stroke-linejoin="miter" stroke-linecap="butt"/>
<rect x="597.2" y="380.7" width="1.7" height="12.5" fill="#8e1e28"/>
<line x1="590.6" y1="395.9" x2="594.5" y2="399.8" stroke="#8e1e28" stroke-width="1.8" stroke-linecap="butt"/>
<polyline points="592.2,400.7 596.4,402.2 595.6,397.7" stroke="#8e1e28" stroke-width="0.8" fill="#8e1e28" stroke-linejoin="miter" stroke-linecap="butt"/>
<line x1="595.4" y1="394.8" x2="599.4" y2="398.8" stroke="#8e1e28" stroke-width="1.8" stroke-linecap="butt"/>
<polyline points="596.8,401.3 601.7,402.2 601.2,397" stroke="#8e1e28" stroke-width="0.8" fill="#8e1e28" stroke-linejoin="miter" stroke-linecap="butt"/>
<path d="M573.15,372.55 L573.15,379.45 L577.55,379.45 M584.65,372.55 L580.25,372.55 L580.25,379.45 L584.65,379.45 M580.25,375.77 L583.55,375.77 M587.35,379.45 L587.35,372.55 L590.65,372.55 L591.75,373.70 L591.75,378.30 L590.65,379.45 L587.35,379.45 M595.11,373.93 L596.65,372.55 L596.65,379.45 M595.11,379.45 L598.19,379.45 M602.65,379.45 L604.85,379.45 L605.95,378.30 L605.95,373.70 L604.85,372.55 L602.65,372.55 L601.55,373.70 L601.55,378.30 L602.65,379.45 M602.21,378.07 L605.29,373.93" fill="none" stroke="#847b76" stroke-width="1.1" stroke-linecap="round" stroke-linejoin="round"/>
<rect x="327" y="95" width="2" height="45" fill="#8e1e28"/>
<polyline points="328.2,106 332.8,108.511 323.6,111.022 332.8,113.533 323.6,116.044 332.8,118.556 323.6,121.067 332.8,123.578 323.6,126.089 328.2,128.6" stroke="#8e1e28" stroke-width="2" fill="none" stroke-linejoin="round" stroke-linecap="round" shape-rendering="crispEdges"/>
<path d="M321.75,133.15 L314.85,133.15 L314.85,129.85 L316.00,128.75 L316.92,128.75 L318.07,129.85 L318.07,133.15 M318.07,130.95 L321.75,128.75 M321.75,122.95 L314.85,122.95 L319.45,126.25 L319.68,126.25 L319.68,121.85" fill="none" stroke="#847b76" stroke-width="1.7" stroke-linecap="round" stroke-linejoin="round"/>
<path d="M342.15,129.93 L334.85,129.93 L339.72,133.15 L339.96,133.15 L339.96,128.85 M342.15,124.52 L342.15,123.88 M334.85,119.55 L334.85,115.25 L336.07,115.25 L342.15,118.47 M342.15,112.75 L334.85,112.75 M334.85,108.45 L339.72,112.75 M338.13,111.35 L342.15,108.45" fill="none" stroke="#847b76" stroke-width="1.7" stroke-linecap="round" stroke-linejoin="round"/>
<rect x="327" y="192" width="2" height="45" fill="#8e1e28"/>
<polyline points="328.2,203.3 332.8,205.767 323.6,208.233 332.8,210.7 323.6,213.167 332.8,215.633 323.6,218.1 332.8,220.567 323.6,223.033 328.2,225.5" stroke="#8e1e28" stroke-width="2" fill="none" stroke-linejoin="round" stroke-linecap="round" shape-rendering="crispEdges"/>
<path d="M322.15,230.15 L315.85,230.15 L315.85,226.85 L316.90,225.75 L317.74,225.75 L318.79,226.85 L318.79,230.15 M318.79,227.95 L322.15,225.75 M316.90,223.25 L315.85,222.15 L315.85,219.95 L316.90,218.85 L317.95,218.85 L319.00,219.95 L320.05,218.85 L321.10,218.85 L322.15,219.95 L322.15,222.15 L321.10,223.25 M319.00,221.60 L319.00,219.95" fill="none" stroke="#847b76" stroke-width="1.7" stroke-linecap="round" stroke-linejoin="round"/>
<path d="M336.53,230.47 L335.15,229.10 L342.05,229.10 M342.05,230.47 L342.05,227.74 M342.05,224.65 L335.15,224.65 M335.15,220.75 L339.75,224.65 M338.25,223.38 L342.05,220.75" fill="none" stroke="#847b76" stroke-width="1.7" stroke-linecap="round" stroke-linejoin="round"/>
<rect x="641" y="398" width="1" height="43.5" fill="#8e1e28"/>
<polyline points="641.5,407.9 646.1,410.5 636.9,413.1 646.1,415.7 636.9,418.3 646.1,420.9 636.9,423.5 646.1,426.1 636.9,428.7 641.5,431.3" stroke="#8e1e28" stroke-width="2" fill="none" stroke-linejoin="round" stroke-linecap="round" shape-rendering="crispEdges"/>
<path d="M629.31,415.07 L627.85,413.73 L635.15,413.73 M635.15,415.07 L635.15,412.38 M635.15,409.30 L627.85,409.30 M627.85,405.45 L632.72,409.30 M631.13,408.05 L635.15,405.45" fill="none" stroke="#847b76" stroke-width="1.7" stroke-linecap="round" stroke-linejoin="round"/>
<path d="M654.75,416.65 L647.25,416.65 L647.25,413.80 L648.50,412.85 L649.50,412.85 L650.75,413.80 L650.75,416.65 M650.75,414.75 L654.75,412.85 M648.75,409.78 L647.25,408.45 L654.75,408.45 M654.75,409.78 L654.75,407.12" fill="none" stroke="#847b76" stroke-width="1.7" stroke-linecap="round" stroke-linejoin="round"/>
<rect x="327" y="247" width="2" height="20.5" fill="#8e1e28"/>
<rect x="327" y="306" width="2" height="17.5" fill="#8e1e28"/>
<polyline points="327.9,267 332.5,270.8 324.4,277.3 332,283.6 324.8,290.2 332.5,296.7 324.4,303.2 327.9,306.6" stroke="#8e1e28" stroke-width="2.6" fill="none" stroke-linejoin="miter" stroke-linecap="butt"/>
<rect x="306" y="290" width="15" height="1" fill="#8e1e28"/>
<polyline points="320.6,284.8 320.6,296.2 325.6,290.5 320.6,284.8" stroke="#8e1e28" stroke-width="1.8" fill="none" stroke-linejoin="miter" stroke-linecap="butt"/>
<path d="M316.85,278.85 L310.25,278.85 L310.25,275.66 L311.35,274.60 L312.23,274.60 L313.33,275.66 L313.33,278.85 M313.33,276.72 L316.85,274.60 M311.35,272.10 L310.25,271.04 L310.25,268.91 L311.35,267.85 L312.45,267.85 L316.85,272.10 L316.85,267.85" fill="none" stroke="#847b76" stroke-width="1.7" stroke-linecap="round" stroke-linejoin="round"/>
<path d="M311.20,287.90 L310.50,286.60 L310.50,284.00 L311.20,282.70 L311.90,282.70 L312.60,284.00 L313.30,282.70 L314.00,282.70 L314.70,284.00 L314.70,286.60 L314.00,287.90 M312.60,285.95 L312.60,284.00" fill="none" stroke="#847b76" stroke-width="1.2" stroke-linecap="round" stroke-linejoin="round"/>
<path d="M322.02,256.05 L321.25,255.28 L321.25,253.72 L322.02,252.95 L322.78,252.95 L325.85,256.05 L325.85,252.95" fill="none" stroke="#847b76" stroke-width="1.3" stroke-linecap="round" stroke-linejoin="round"/>
<path d="M321.76,318.44 L320.60,317.60 L326.40,317.60 M326.40,318.44 L326.40,316.76" fill="none" stroke="#847b76" stroke-width="1.2" stroke-linecap="round" stroke-linejoin="round"/>
<path d="M339.79,311.51 L338.45,310.01 L345.15,310.01 M345.15,311.51 L345.15,308.51 M345.15,304.29 L345.15,302.15 L344.03,301.07 L339.57,301.07 L338.45,302.15 L338.45,304.29 L339.57,305.36 L344.03,305.36 L345.15,304.29 M343.81,304.72 L339.79,301.72 M345.15,297.50 L345.15,295.36 L344.03,294.29 L339.57,294.29 L338.45,295.36 L338.45,297.50 L339.57,298.57 L344.03,298.57 L345.15,297.50 M343.81,297.93 L339.79,294.93 M345.15,291.79 L338.45,291.79 M338.45,287.50 L342.92,291.79 M341.47,290.39 L345.15,287.50 M338.45,278.21 L345.15,278.21 L345.15,273.93 M338.45,270.35 L338.45,268.21 M338.45,269.28 L345.15,269.28 M345.15,270.35 L345.15,268.21 M345.15,264.64 L338.45,264.64 L345.15,260.35 L338.45,260.35" fill="none" stroke="#847b76" stroke-width="1.7" stroke-linecap="round" stroke-linejoin="round"/>
<rect x="90" y="106" width="2" height="14" fill="#8e1e28"/>
<rect x="82" y="119" width="18" height="2.8" fill="#8e1e28"/>
<rect x="82" y="124" width="18" height="2.8" fill="#8e1e28"/>
<rect x="90" y="126" width="2" height="14" fill="#8e1e28"/>
<path d="M101.10,110.10 L100.21,109.05 L98.44,109.05 L97.55,110.10 L97.55,114.30 L98.44,115.35 L100.21,115.35 L101.10,114.30 M104.13,110.31 L105.38,109.05 L105.38,115.35 M104.13,115.35 L106.62,115.35" fill="none" stroke="#847b76" stroke-width="1.7" stroke-linecap="round" stroke-linejoin="round"/>
<path d="M98.20,132.23 L99.71,131.05 L99.71,136.95 M98.20,136.95 L101.22,136.95 M105.45,136.95 L107.60,136.95 L108.68,135.97 L108.68,132.03 L107.60,131.05 L105.45,131.05 L104.37,132.03 L104.37,135.97 L105.45,136.95 M105.01,135.77 L108.04,132.23 M114.42,136.95 L114.42,131.05 L111.18,134.98 L111.18,135.18 L115.50,135.18 M129.13,132.03 L128.05,131.05 L125.90,131.05 L124.82,132.03 L124.82,135.97 L125.90,136.95 L128.05,136.95 L129.13,135.97 M131.63,136.95 L131.63,131.05 L134.87,131.05 L135.95,132.03 L135.95,135.97 L134.87,136.95 L131.63,136.95" fill="none" stroke="#847b76" stroke-width="1.7" stroke-linecap="round" stroke-linejoin="round"/>
<rect x="111" y="365" width="2" height="14" fill="#8e1e28"/>
<rect x="103" y="378.2" width="18" height="3" fill="#8e1e28"/>
<rect x="103" y="383" width="18" height="3" fill="#8e1e28"/>
<rect x="111" y="385" width="2" height="14" fill="#8e1e28"/>
<path d="M123.55,369.18 L122.35,368.05 L119.95,368.05 L118.75,369.18 L118.75,373.72 L119.95,374.85 L122.35,374.85 L123.55,373.72 M126.05,369.18 L127.25,368.05 L129.65,368.05 L130.85,369.18 L130.85,370.32 L126.05,374.85 L130.85,374.85" fill="none" stroke="#847b76" stroke-width="1.7" stroke-linecap="round" stroke-linejoin="round"/>
<path d="M119.39,391.03 L120.89,389.85 L120.89,395.75 M119.39,395.75 L122.39,395.75 M126.60,395.75 L128.75,395.75 L129.82,394.77 L129.82,390.83 L128.75,389.85 L126.60,389.85 L125.53,390.83 L125.53,394.77 L126.60,395.75 M126.18,394.57 L129.17,391.03 M135.53,395.75 L135.53,389.85 L132.32,393.78 L132.32,393.98 L136.60,393.98 M150.17,390.83 L149.10,389.85 L146.95,389.85 L145.88,390.83 L145.88,394.77 L146.95,395.75 L149.10,395.75 L150.17,394.77 M152.67,395.75 L152.67,389.85 L155.88,389.85 L156.95,390.83 L156.95,394.77 L155.88,395.75 L152.67,395.75" fill="none" stroke="#847b76" stroke-width="1.7" stroke-linecap="round" stroke-linejoin="round"/>
<rect x="284" y="398.5" width="2" height="10.5" fill="#8e1e28"/>
<rect x="273" y="408" width="23.5" height="2.2" fill="#8e1e28"/>
<path d="M274.6,416.8 A16,16 0 0 1 296,416.8" stroke="#8e1e28" stroke-width="2" fill="none" stroke-linecap="round"/>
<rect x="284" y="413.5" width="2" height="18.5" fill="#8e1e28"/>
<path d="M300.60,397.88 L299.39,396.85 L296.96,396.85 L295.75,397.88 L295.75,402.02 L296.96,403.05 L299.39,403.05 L300.60,402.02 M303.10,397.88 L304.31,396.85 L306.74,396.85 L307.95,397.88 L307.95,398.92 L306.74,399.95 L307.95,400.98 L307.95,402.02 L306.74,403.05 L304.31,403.05 L303.10,402.02 M304.92,399.95 L306.74,399.95" fill="none" stroke="#847b76" stroke-width="1.7" stroke-linecap="round" stroke-linejoin="round"/>
<path d="M296.51,425.11 L298.04,423.95 L298.04,429.75 M296.51,429.75 L299.58,429.75 M303.83,429.75 L306.03,429.75 L307.12,428.78 L307.12,424.92 L306.03,423.95 L303.83,423.95 L302.74,424.92 L302.74,428.78 L303.83,429.75 M303.40,428.59 L306.47,425.11 M309.62,425.88 L309.62,428.78 L310.72,429.75 L312.92,429.75 L314.01,428.78 M314.01,425.88 L314.01,429.75 M320.90,423.95 L316.51,423.95 L316.51,429.75 M316.51,426.66 L319.80,426.66 M334.46,423.95 L332.92,423.95 L330.62,426.46 L330.29,427.43 L330.29,428.78 L331.38,429.75 L333.58,429.75 L334.68,428.78 L334.68,427.43 L333.58,426.46 L330.95,426.46 M337.18,424.92 L338.27,423.95 L340.47,423.95 L341.56,424.92 L341.56,425.88 L340.47,426.85 L341.56,427.82 L341.56,428.78 L340.47,429.75 L338.27,429.75 L337.18,428.78 M338.82,426.85 L340.47,426.85 M344.06,423.95 L344.06,427.82 L346.26,429.75 L348.45,427.82 L348.45,423.95" fill="none" stroke="#847b76" stroke-width="1.7" stroke-linecap="round" stroke-linejoin="round"/>
<rect x="360" y="452" width="2" height="11" fill="#8e1e28"/>
<polyline points="355,463 366.6,463 360.8,469 355,463" stroke="#8e1e28" stroke-width="2.2" fill="none" stroke-linejoin="miter" stroke-linecap="butt"/>
<path d="M357.48,471.22 L356.45,470.35 L354.38,470.35 L353.35,471.22 L353.35,474.68 L354.38,475.55 L356.45,475.55 L357.48,474.68 L357.48,472.95 L355.62,472.95 M359.98,475.55 L359.98,470.35 L364.12,475.55 L364.12,470.35 M366.62,475.55 L366.62,470.35 L369.72,470.35 L370.75,471.22 L370.75,474.68 L369.72,475.55 L366.62,475.55" fill="none" stroke="#847b76" stroke-width="1.7" stroke-linecap="round" stroke-linejoin="round"/>
<circle cx="414.8" cy="36.4" r="5.6" fill="none" stroke="#8e1e28" stroke-width="2"/>
<rect x="411" y="35.5" width="7.5" height="1.5" fill="#8e1e28"/>
<rect x="414" y="33.2" width="1.5" height="6.5" fill="#8e1e28"/>
<rect x="413.5" y="42.5" width="2" height="11.5" fill="#8e1e28"/>
<path d="M407.15,24.75 L411.48,24.75 M409.32,26.48 L409.32,23.02 M415.07,24.58 L413.98,23.71 L413.98,23.02 L415.07,22.15 L417.23,22.15 L418.32,23.02 L418.32,23.71 L417.23,24.58 L415.07,24.58 L413.98,25.44 L413.98,26.48 L415.07,27.35 L417.23,27.35 L418.32,26.48 L418.32,25.44 L417.23,24.58 M420.82,22.15 L420.82,25.62 L422.98,27.35 L425.15,25.62 L425.15,22.15" fill="none" stroke="#847b76" stroke-width="1.7" stroke-linecap="round" stroke-linejoin="round"/>
<path d="M54.15,9.57 L53.32,8.45 L51.67,8.45 L50.85,9.57 L50.85,10.46 L51.67,11.58 L53.32,11.58 L54.15,12.69 L54.15,14.03 L53.32,15.15 L51.67,15.15 L50.85,14.03 M57.14,9.79 L58.30,8.45 L58.30,15.15 M57.14,15.15 L59.45,15.15" fill="none" stroke="#847b76" stroke-width="1.7" stroke-linecap="round" stroke-linejoin="round"/>
<rect x="49" y="25" width="18" height="2" fill="#8e1e28"/>
<rect x="57" y="27" width="2" height="8" fill="#8e1e28"/>
<rect x="57" y="36.5" width="2" height="2" fill="#8e1e28"/>
<rect x="57" y="43" width="2" height="2.5" fill="#8e1e28"/>
<polyline points="57.5,39.5 55.5,41 57.5,42.5" stroke="#8e1e28" stroke-width="1.6" fill="#8e1e28" stroke-linejoin="miter" stroke-linecap="butt"/>
<line x1="50.8" y1="53" x2="72.4" y2="44.5" stroke="#8e1e28" stroke-width="2.3" stroke-linecap="butt"/>
<rect x="37" y="52" width="14.5" height="2" fill="#8e1e28"/>
<rect x="68" y="41" width="13" height="2" fill="#8e1e28"/>
<rect x="68" y="41" width="1.5" height="4.5" fill="#8e1e28"/>
<path d="M71.15,36.17 L71.85,35.35 L71.85,39.45 M71.15,39.45 L72.55,39.45" fill="none" stroke="#847b76" stroke-width="1.7" stroke-linecap="round" stroke-linejoin="round"/>
<path d="M41.25,46.10 L42.02,45.25 L43.58,45.25 L44.35,46.10 L44.35,46.95 L41.25,50.35 L44.35,50.35" fill="none" stroke="#847b76" stroke-width="1.7" stroke-linecap="round" stroke-linejoin="round"/>
<rect x="68" y="57" width="1.8" height="7" fill="#8e1e28"/>
<rect x="68" y="63" width="13" height="1" fill="#8e1e28"/>
<path d="M70.75,57.03 L71.85,56.05 L74.05,56.05 L75.15,57.03 L75.15,58.02 L74.05,59.00 L75.15,59.98 L75.15,60.97 L74.05,61.95 L71.85,61.95 L70.75,60.97 M72.40,59.00 L74.05,59.00" fill="none" stroke="#847b76" stroke-width="1.7" stroke-linecap="round" stroke-linejoin="round"/>
<rect x="25" y="149" width="2" height="11" fill="#8e1e28"/>
<polyline points="22.7,163.8 26,160.3 29.4,163.8" stroke="#8e1e28" stroke-width="1.8" fill="none" stroke-linejoin="miter" stroke-linecap="butt"/>
<rect x="24.2" y="164" width="3.8" height="6.8" rx="1.6" fill="#8e1e28"/>
<rect x="25.2" y="170" width="1.9" height="3.5" fill="#8e1e28"/>
<rect x="14" y="173.2" width="24" height="2.6" fill="#8e1e28"/>
<rect x="14" y="184.2" width="24" height="2.6" fill="#8e1e28"/>
<rect x="14" y="194.7" width="24" height="2.6" fill="#8e1e28"/>
<rect x="14" y="205.5" width="24" height="2.6" fill="#8e1e28"/>
<rect x="14" y="216.2" width="24" height="2.6" fill="#8e1e28"/>
<rect x="14" y="227" width="24" height="2.6" fill="#8e1e28"/>
<rect x="22" y="178.4" width="7.8" height="2" fill="#8e1e28"/>
<rect x="22" y="189.4" width="7.8" height="2" fill="#8e1e28"/>
<rect x="22" y="200.4" width="7.8" height="2" fill="#8e1e28"/>
<rect x="22" y="211.3" width="7.8" height="2" fill="#8e1e28"/>
<rect x="22" y="222" width="7.8" height="2" fill="#8e1e28"/>
<rect x="22.2" y="232.2" width="7.8" height="2.5" fill="#8e1e28"/>
<rect x="25" y="234" width="2.1" height="8" fill="#8e1e28"/>
<polyline points="22.7,244.6 26,241.2 29.4,244.6" stroke="#8e1e28" stroke-width="1.8" fill="none" stroke-linejoin="miter" stroke-linecap="butt"/>
<rect x="24" y="245.3" width="3.9" height="6" rx="1.6" fill="#8e1e28"/>
<rect x="25" y="251" width="2" height="8" fill="#8e1e28"/>
<rect x="19" y="156.2" width="5" height="1.4" fill="#847b76"/>
<rect x="20.9" y="154" width="1.2" height="5.7" fill="#847b76"/>
<rect x="17.1" y="168.6" width="5.7" height="1.5" fill="#8e1e28"/>
<rect x="19.3" y="167.2" width="1.4" height="4.7" fill="#8e1e28"/>
<rect x="19" y="234" width="1.8" height="5.6" fill="#8e1e28"/>
<rect x="20.8" y="249.9" width="1.1" height="4.9" fill="#847b76"/>
<path d="M6.30,223.85 L5.25,224.78 L5.25,226.62 L6.30,227.55 L10.50,227.55 L11.55,226.62 L11.55,224.78 L10.50,223.85 L8.40,223.85 L8.40,225.52 M6.51,220.80 L5.25,219.50 L11.55,219.50 M11.55,220.80 L11.55,218.21" fill="none" stroke="#847b76" stroke-width="1.7" stroke-linecap="round" stroke-linejoin="round"/>
<path d="M46.95,228.15 L42.48,228.15 L40.25,225.93 L42.48,223.70 L46.95,223.70 M44.05,228.15 L44.05,223.70 M43.38,220.09 L42.26,221.20 L41.37,221.20 L40.25,220.09 L40.25,217.86 L41.37,216.75 L42.26,216.75 L43.38,217.86 L43.38,220.09 L44.49,221.20 L45.83,221.20 L46.95,220.09 L46.95,217.86 L45.83,216.75 L44.49,216.75 L43.38,217.86 M43.38,213.14 L42.26,214.25 L41.37,214.25 L40.25,213.14 L40.25,210.91 L41.37,209.80 L42.26,209.80 L43.38,210.91 L43.38,213.14 L44.49,214.25 L45.83,214.25 L46.95,213.14 L46.95,210.91 L45.83,209.80 L44.49,209.80 L43.38,210.91 M40.25,207.30 L44.72,207.30 L46.95,205.07 L44.72,202.85 L40.25,202.85" fill="none" stroke="#847b76" stroke-width="1.7" stroke-linecap="round" stroke-linejoin="round"/>
</svg></body></html>
